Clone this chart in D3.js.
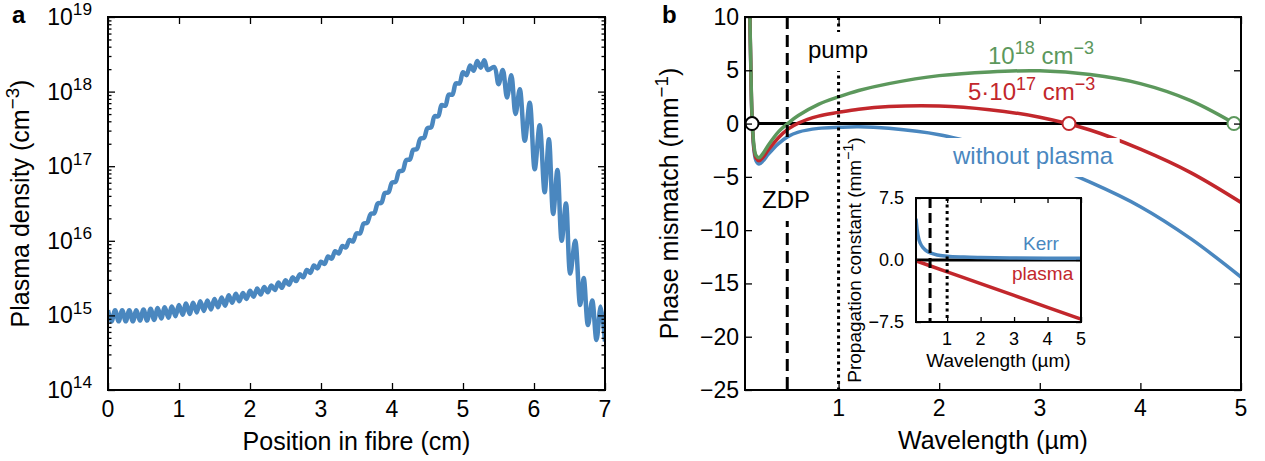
<!DOCTYPE html>
<html>
<head>
<meta charset="utf-8">
<script src="https://cdn.jsdelivr.net/npm/d3@7"></script>
<style>
  body { margin: 0; background: #fff; }
  text { font-family: "Liberation Sans", Arial, sans-serif; }
</style>
</head>
<body>
<svg id="chart"></svg>
<script>
// ---- panel a: plasma density along the fibre ----
const posCm = [
  0, 0.05, 0.1, 0.15, 0.2, 0.25, 0.3, 0.35, 0.4, 0.45, 0.5, 0.55, 0.6, 0.65, 0.7, 0.75, 0.8, 0.85, 0.9, 0.95, 1.0,
  1.05, 1.1, 1.15, 1.2, 1.25, 1.3, 1.35, 1.4, 1.45, 1.5, 1.55, 1.6, 1.65, 1.7, 1.75, 1.8, 1.85, 1.9, 1.95, 2.0,
  2.05, 2.1, 2.15, 2.2, 2.25, 2.3, 2.35, 2.4, 2.45, 2.5, 2.55, 2.6, 2.65, 2.7, 2.75, 2.8, 2.85, 2.9, 2.95, 3.0,
  3.05, 3.1, 3.15, 3.2, 3.25, 3.3, 3.35, 3.4, 3.45, 3.5, 3.55, 3.6, 3.65, 3.7, 3.75, 3.8, 3.85, 3.9, 3.95, 4.0,
  4.05, 4.1, 4.15, 4.2, 4.25, 4.3, 4.35, 4.4, 4.45, 4.5, 4.55, 4.6, 4.65, 4.7, 4.75, 4.8, 4.85, 4.9, 4.95, 5.0,
  5.05, 5.1, 5.15, 5.2, 5.25, 5.3, 5.35,
  5.44, 5.5, 5.56, 5.62, 5.68, 5.74, 5.8, 5.87, 5.94, 6.01, 6.08, 6.15, 6.21, 6.27, 6.33, 6.39,
  6.45, 6.51, 6.58, 6.65, 6.7, 6.76, 6.82, 6.88, 6.94, 7.0
];
// log10 of density in cm^-3
const densityExp = [
  15.07, 14.92, 15.07, 14.92, 15.07, 14.92, 15.07, 14.92, 15.07, 14.93, 15.08, 14.93, 15.09, 14.94, 15.10, 14.96, 15.11, 14.97, 15.12, 14.99, 15.14,
  15.01, 15.16, 15.02, 15.17, 15.04, 15.19, 15.06, 15.20, 15.08, 15.22, 15.11, 15.24, 15.13, 15.27, 15.17, 15.29, 15.19, 15.30, 15.22, 15.33,
  15.25, 15.36, 15.28, 15.38, 15.31, 15.40, 15.34, 15.44, 15.37, 15.47, 15.41, 15.51, 15.46, 15.55, 15.51, 15.61, 15.57, 15.67, 15.63, 15.72,
  15.69, 15.79, 15.76, 15.86, 15.83, 15.93, 15.91, 16.01, 15.99, 16.10, 16.10, 16.23, 16.24, 16.36, 16.37, 16.50, 16.51, 16.64, 16.65, 16.78,
  16.79, 16.93, 16.94, 17.08, 17.09, 17.22, 17.23, 17.37, 17.38, 17.51, 17.52, 17.67, 17.67, 17.82, 17.81, 17.96, 17.96, 18.11, 18.11, 18.26,
  18.22, 18.35, 18.28, 18.41, 18.32, 18.42, 18.29,
  18.33, 18.10, 18.29, 17.92, 18.22, 17.70, 18.03, 17.34, 17.85, 16.96, 17.55, 16.65, 17.36, 16.36, 16.95, 16.00,
  16.50, 15.56, 16.00, 15.14, 15.50, 14.87, 15.20, 14.67, 15.12, 14.65
];
const xTicksA = [0, 1, 2, 3, 4, 5, 6, 7];
const yExpTicksA = [14, 15, 16, 17, 18, 19];

// ---- panel b: phase mismatch ----
const wavelength = [0.11, 0.12, 0.13, 0.14, 0.16, 0.18, 0.21, 0.25, 0.3, 0.4, 0.5, 0.6, 0.8, 1.0, 1.2, 1.5, 2.0, 2.5, 3.0, 3.5, 4.0, 4.5, 5.0];
const mismatchNoPlasma = [16, 9, 4, 0.3, -2.6, -3.5, -3.8, -3.5, -2.9, -1.9, -1.2, -0.8, -0.45, -0.35, -0.3, -0.45, -1.05, -2.2, -3.6, -5.5, -7.8, -10.8, -14.4];
const mismatch5e17 = [16.2, 9.2, 4.2, 0.5, -2.4, -3.25, -3.5, -3.15, -2.5, -1.35, -0.5, 0.05, 0.7, 1.05, 1.35, 1.6, 1.65, 1.3, 0.6, -0.6, -2.4, -4.6, -7.4];
const mismatch1e18 = [16.3, 9.35, 4.4, 0.7, -2.15, -3.0, -3.2, -2.8, -2.05, -0.8, 0.05, 0.75, 1.8, 2.5, 3.1, 3.75, 4.5, 4.85, 4.95, 4.6, 3.75, 2.15, -0.35];
const phaseMatchWl = [0.14, 3.29, 4.93];
const zdpWl = 0.49;
const pumpWl = 1.0;
const xTicksB = [1, 2, 3, 4, 5];
const yTicksB = [10, 5, 0, -5, -10, -15, -20, -25];

// ---- inset: propagation constant contributions ----
const insetWl = [0.07, 0.1, 0.15, 0.2, 0.3, 0.4, 0.5, 0.7, 1.0, 1.5, 2.0, 3.0, 4.0, 5.0];
const kerrConst = [5.0, 3.8, 2.6, 2.0, 1.4, 1.05, 0.85, 0.6, 0.45, 0.35, 0.3, 0.25, 0.22, 0.2];
const plasmaWl = [0.07, 1, 2, 3, 4, 5];
const plasmaConst = [-0.1, -1.43, -2.86, -4.29, -5.72, -7.15];
const xTicksI = [1, 2, 3, 4, 5];
const yTicksI = [7.5, 0, -7.5];

const BLUE = '#4a87bf', RED = '#c2272c', GREEN = '#5c985c';

const svg = d3.select('#chart').attr('width', 1265).attr('height', 461);
svg.append('rect').attr('width', 1265).attr('height', 461).attr('fill', '#fff');

// text with superscript parts: plain strings, or [string] for superscript
function richText(g, x, y, parts, size, anchor, rotate, color) {
  const rise = size * 0.42, supSize = size * 0.75;
  const t = g.append('text')
    .attr('x', x).attr('y', y)
    .attr('font-size', size)
    .attr('fill', color || '#000')
    .attr('text-anchor', anchor || 'start');
  if (rotate) t.attr('transform', `rotate(-90 ${x} ${y})`);
  let raised = false;
  parts.forEach(p => {
    const sup = Array.isArray(p);
    const ts = t.append('tspan').text(sup ? p[0] : p);
    if (sup) {
      ts.attr('font-size', supSize);
      if (!raised) { ts.attr('dy', -rise); raised = true; }
    } else if (raised) {
      ts.attr('dy', rise); raised = false;
    }
  });
  return t;
}

// inward ticks on one side
function ticks(g, scale, orient, values, len, pos) {
  const make = { bottom: d3.axisBottom, top: d3.axisTop, left: d3.axisLeft, right: d3.axisRight }[orient];
  const axis = make(scale).tickValues(values).tickSizeInner(-len).tickSizeOuter(0).tickFormat('');
  const horiz = orient === 'bottom' || orient === 'top';
  const a = g.append('g')
    .attr('transform', horiz ? `translate(0,${pos})` : `translate(${pos},0)`)
    .call(axis);
  a.select('.domain').remove();
  a.selectAll('line').attr('stroke', '#000').attr('stroke-width', 1.3);
}

function frame(g, l, t, r, b, w) {
  g.append('rect').attr('x', l).attr('y', t).attr('width', r - l).attr('height', b - t)
    .attr('fill', 'none').attr('stroke', '#000').attr('stroke-width', w);
}

function boxedLabel(g, x, y, str, size, color) {
  const t = g.append('text').attr('x', x).attr('y', y).attr('font-size', size)
    .attr('fill', color).text(str);
  const bb = t.node().getBBox();
  g.insert('rect', () => t.node())
    .attr('x', bb.x - 6).attr('y', bb.y - 4)
    .attr('width', bb.width + 12).attr('height', bb.height + 12)
    .attr('fill', '#fff');
  return t;
}

// =================== panel a ===================
const A = { l: 108, r: 605, t: 17, b: 390 };
const xA = d3.scaleLinear().domain([0, 7]).range([A.l, A.r]);
const yA = d3.scaleLog().domain([1e14, 1e19]).range([A.b, A.t]);
const ga = svg.append('g');

ga.append('clipPath').attr('id', 'clipA')
  .append('rect').attr('x', A.l).attr('y', A.t).attr('width', A.r - A.l).attr('height', A.b - A.t);

const majorA = yExpTicksA.map(e => Math.pow(10, e));
const minorA = yA.ticks().filter(v => !majorA.some(m => Math.abs(m - v) / m < 1e-6));

ga.append('path')
  .datum(posCm.map((x, i) => [x, Math.pow(10, densityExp[i])]))
  .attr('clip-path', 'url(#clipA)')
  .attr('fill', 'none')
  .attr('stroke', BLUE)
  .attr('stroke-width', 4.5)
  .attr('stroke-linejoin', 'round')
  .attr('d', d3.line().x(d => xA(d[0])).y(d => yA(d[1])).curve(d3.curveCatmullRom));

ticks(ga, xA, 'bottom', xTicksA, 7, A.b);
ticks(ga, xA, 'top', xTicksA, 7, A.t);
ticks(ga, yA, 'left', majorA, 7, A.l);
ticks(ga, yA, 'right', majorA, 7, A.r);
ticks(ga, yA, 'left', minorA, 3.5, A.l);
ticks(ga, yA, 'right', minorA, 3.5, A.r);
frame(ga, A.l, A.t, A.r, A.b, 2);

xTicksA.forEach(v => {
  ga.append('text').attr('x', xA(v)).attr('y', 417).attr('font-size', 23)
    .attr('text-anchor', 'middle').text(v);
});
yExpTicksA.forEach(e => {
  richText(ga, 92, yA(Math.pow(10, e)) + 8, ['10', [String(e)]], 23, 'end');
});
ga.append('text').attr('x', (A.l + A.r) / 2).attr('y', 450).attr('font-size', 25)
  .attr('text-anchor', 'middle').text('Position in fibre (cm)');
richText(ga, 29, (A.t + A.b) / 2, ['Plasma density (cm', ['\u22123'], ')'], 25, 'middle', true);
ga.append('text').attr('x', 12).attr('y', 23).attr('font-size', 24).attr('font-weight', 'bold').text('a');

// =================== panel b ===================
const B = { l: 745, r: 1241, t: 17, b: 390 };
const xB = d3.scaleLinear().domain([0.07, 5]).range([B.l, B.r]);
const yB = d3.scaleLinear().domain([-25, 10]).range([B.b, B.t]);
const gb = svg.append('g');

gb.append('clipPath').attr('id', 'clipB')
  .append('rect').attr('x', B.l).attr('y', B.t).attr('width', B.r - B.l).attr('height', B.b - B.t);

// zero line
gb.append('line').attr('x1', B.l).attr('x2', B.r).attr('y1', yB(0)).attr('y2', yB(0))
  .attr('stroke', '#000').attr('stroke-width', 3);

const lineB = d3.line().x(d => xB(d[0])).y(d => yB(d[1])).curve(d3.curveCatmullRom.alpha(0.5));
[[mismatchNoPlasma, BLUE], [mismatch5e17, RED], [mismatch1e18, GREEN]].forEach(([vals, col]) => {
  gb.append('path')
    .datum(wavelength.map((w, i) => [w, vals[i]]))
    .attr('clip-path', 'url(#clipB)')
    .attr('fill', 'none').attr('stroke', col).attr('stroke-width', 3.5)
    .attr('d', lineB);
});

// ZDP and pump markers
gb.append('line').attr('x1', xB(zdpWl)).attr('x2', xB(zdpWl)).attr('y1', B.t).attr('y2', B.b)
  .attr('stroke', '#000').attr('stroke-width', 3).attr('stroke-dasharray', '12,6');
gb.append('line').attr('x1', xB(pumpWl)).attr('x2', xB(pumpWl)).attr('y1', B.t).attr('y2', B.b)
  .attr('stroke', '#000').attr('stroke-width', 3).attr('stroke-dasharray', '3,3.5');

// phase-matching points
const circleCols = ['#000', RED, GREEN];
phaseMatchWl.forEach((w, i) => {
  gb.append('circle').attr('cx', xB(w)).attr('cy', yB(0)).attr('r', 6.5)
    .attr('fill', '#fff').attr('stroke', circleCols[i]).attr('stroke-width', 2);
});

boxedLabel(gb, 808, 58, 'pump', 24, '#000');
boxedLabel(gb, 762, 208, 'ZDP', 24, '#000');
boxedLabel(gb, 953, 164, 'without plasma', 24, BLUE);
richText(gb, 988, 64, ['10', ['18'], ' cm', ['\u22123']], 24, 'start', false, GREEN);
richText(gb, 968, 100, ['5\u00b710', ['17'], ' cm', ['\u22123']], 24, 'start', false, RED);

// ---- inset ----
const I = { l: 916, r: 1081, t: 198, b: 322 };
const xI = d3.scaleLinear().domain([0.07, 5]).range([I.l, I.r]);
const yI = d3.scaleLinear().domain([-7.5, 7.5]).range([I.b, I.t]);
const gi = svg.append('g');
gi.append('rect').attr('x', I.l).attr('y', I.t).attr('width', I.r - I.l).attr('height', I.b - I.t)
  .attr('fill', '#fff');
gi.append('clipPath').attr('id', 'clipI')
  .append('rect').attr('x', I.l).attr('y', I.t).attr('width', I.r - I.l).attr('height', I.b - I.t);

gi.append('line').attr('x1', I.l).attr('x2', I.r).attr('y1', yI(0)).attr('y2', yI(0))
  .attr('stroke', '#000').attr('stroke-width', 3);
const lineI = d3.line().x(d => xI(d[0])).y(d => yI(d[1])).curve(d3.curveMonotoneX);
gi.append('path').datum(plasmaWl.map((w, i) => [w, plasmaConst[i]]))
  .attr('clip-path', 'url(#clipI)').attr('fill', 'none').attr('stroke', RED).attr('stroke-width', 3.5)
  .attr('d', lineI);
gi.append('path').datum(insetWl.map((w, i) => [w, kerrConst[i]]))
  .attr('clip-path', 'url(#clipI)').attr('fill', 'none').attr('stroke', BLUE).attr('stroke-width', 3.5)
  .attr('d', lineI);
gi.append('line').attr('x1', xI(zdpWl)).attr('x2', xI(zdpWl)).attr('y1', I.t).attr('y2', I.b)
  .attr('stroke', '#000').attr('stroke-width', 3).attr('stroke-dasharray', '10,5');
gi.append('line').attr('x1', xI(pumpWl)).attr('x2', xI(pumpWl)).attr('y1', I.t).attr('y2', I.b)
  .attr('stroke', '#000').attr('stroke-width', 3).attr('stroke-dasharray', '3,3.5');

gi.append('text').attr('x', 1023).attr('y', 250).attr('font-size', 19).attr('fill', BLUE).text('Kerr');
gi.append('text').attr('x', 1012).attr('y', 280).attr('font-size', 19).attr('fill', RED).text('plasma');

ticks(gi, xI, 'bottom', xTicksI, 5, I.b);
ticks(gi, xI, 'top', xTicksI, 5, I.t);
ticks(gi, yI, 'left', yTicksI, 5, I.l);
ticks(gi, yI, 'right', yTicksI, 5, I.r);
frame(gi, I.l, I.t, I.r, I.b, 2);

xTicksI.forEach(v => {
  gi.append('text').attr('x', xI(v)).attr('y', 345).attr('font-size', 18)
    .attr('text-anchor', 'middle').text(v);
});
yTicksI.forEach(v => {
  gi.append('text').attr('x', 904).attr('y', yI(v) + 6).attr('font-size', 18)
    .attr('text-anchor', 'end').text(d3.format('.1f')(v).replace('-', '\u2212'));
});
gi.append('text').attr('x', (I.l + I.r) / 2).attr('y', 367).attr('font-size', 19)
  .attr('text-anchor', 'middle').text('Wavelength (\u00b5m)');
richText(gi, 861, (I.t + I.b) / 2, ['Propagation constant (mm', ['\u22121'], ')'], 19, 'middle', true);

// main panel b axes
ticks(gb, xB, 'bottom', xTicksB, 7, B.b);
ticks(gb, xB, 'top', xTicksB, 7, B.t);
ticks(gb, yB, 'left', yTicksB, 7, B.l);
ticks(gb, yB, 'right', yTicksB, 7, B.r);
frame(gb, B.l, B.t, B.r, B.b, 2);
gi.raise();

xTicksB.forEach(v => {
  gb.append('text').attr('x', xB(v)).attr('y', 416).attr('font-size', 23)
    .attr('text-anchor', 'middle').text(v);
});
yTicksB.forEach(v => {
  gb.append('text').attr('x', 739).attr('y', yB(v) + 8).attr('font-size', 23)
    .attr('text-anchor', 'end').text(String(v).replace('-', '\u2212'));
});
gb.append('text').attr('x', (B.l + B.r) / 2).attr('y', 449).attr('font-size', 25)
  .attr('text-anchor', 'middle').text('Wavelength (\u00b5m)');
richText(gb, 678, (B.t + B.b) / 2, ['Phase mismatch (mm', ['\u22121'], ')'], 25, 'middle', true);
gb.append('text').attr('x', 662).attr('y', 23).attr('font-size', 24).attr('font-weight', 'bold').text('b');
</script>
</body>
</html>
